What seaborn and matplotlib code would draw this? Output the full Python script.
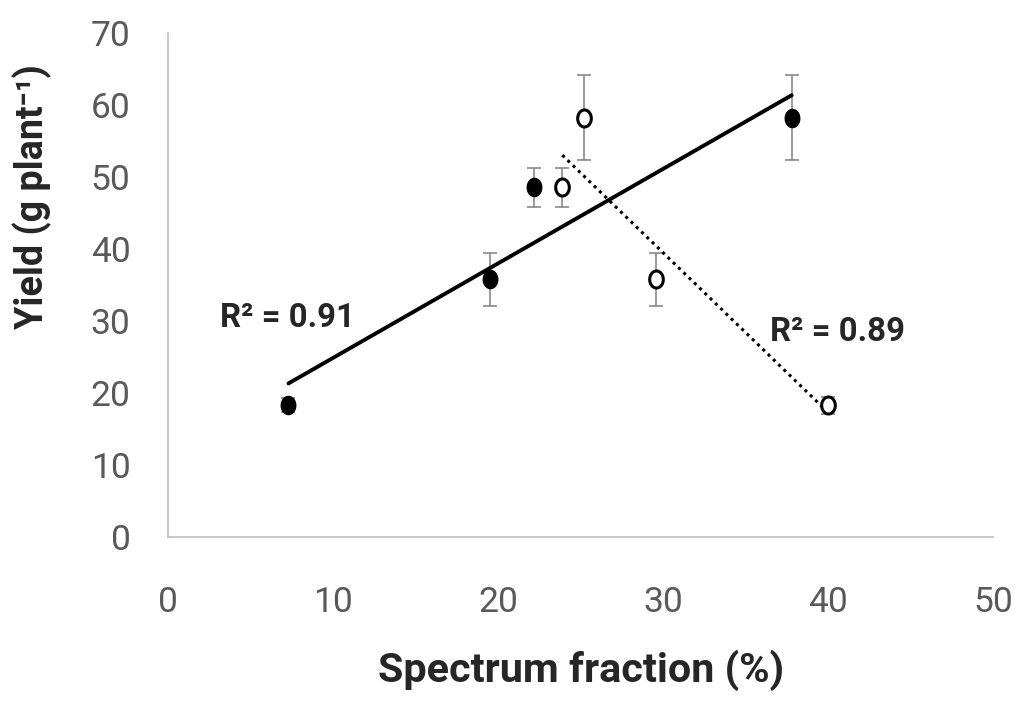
import numpy as np
import pandas as pd
import matplotlib
matplotlib.use("Agg")
import matplotlib.pyplot as plt
from matplotlib import font_manager
from matplotlib.path import Path
import seaborn as sns

# === Data ===
filled_x = [7.3, 19.5, 22.2, 37.8]
filled_y = [18.3, 35.8, 48.6, 58.2]
filled_err = [1.0, 3.7, 2.7, 5.9]

open_x = [23.9, 25.2, 29.6, 40.0]
open_y = [48.6, 58.2, 35.8, 18.3]
open_err = [2.7, 5.9, 3.7, 1.2]

r2_filled = "R² = 0.91"
r2_open = "R² = 0.89"

x_ticks = [0, 10, 20, 30, 40, 50]
y_ticks = [0, 10, 20, 30, 40, 50, 60, 70]

df_filled = pd.DataFrame({"x": filled_x, "y": filled_y})
df_open = pd.DataFrame({"x": open_x, "y": open_y})

# === Style ===
sns.set_style("white")

# prefer a narrow face (the original looks like Calibri)
names = {f.name for f in font_manager.fontManager.ttflist}
if "Liberation Sans Narrow" in names:
    main_font, scale = "Liberation Sans Narrow", 1.0
else:
    main_font, scale = "Roboto", 0.85
fonts = [main_font, "DejaVu Sans"]
plt.rcParams["font.family"] = fonts
axis_grey = "#bfbfbf"
tick_grey = "#595959"

# slightly tall ellipse marker (the picture is stretched vertically)
t = np.linspace(0, 2 * np.pi, 60)
ellipse = Path(np.column_stack([0.8 * np.cos(t), np.sin(t)]), closed=True)

fig = plt.figure(figsize=(10.2, 7.07), dpi=100)
ax = fig.add_axes([0.1647, 0.2405, 0.8088, 0.7128])

# error bars
for xs, ys, es in [(filled_x, filled_y, filled_err), (open_x, open_y, open_err)]:
    ax.errorbar(xs, ys, yerr=es, fmt="none", ecolor="#808080",
                elinewidth=1.1, capsize=5, capthick=1.1, zorder=2)

# trend lines
sns.regplot(data=df_filled, x="x", y="y", scatter=False, ci=None, ax=ax,
            line_kws={"color": "black", "lw": 2.8, "zorder": 3})
sns.regplot(data=df_open, x="x", y="y", scatter=False, ci=None, ax=ax,
            line_kws={"color": "black", "lw": 2.2, "ls": (0, (1, 1.4)), "zorder": 3})

# points
sns.scatterplot(data=df_filled, x="x", y="y", ax=ax, color="black", s=170,
                marker=ellipse, edgecolor="black", linewidth=1, zorder=4)
sns.scatterplot(data=df_open, x="x", y="y", ax=ax, color="white", s=150,
                marker=ellipse, edgecolor="black", linewidth=2.2, zorder=4)

ax.text(3.15, 29.2, r2_filled, fontsize=28 * scale, fontweight="bold",
        family=fonts, va="baseline", ha="left")
ax.text(36.5, 27.2, r2_open, fontsize=28 * scale, fontweight="bold",
        family=fonts, va="baseline", ha="left")

ax.set_xlim(0, 50)
ax.set_ylim(0, 70)
ax.set_xticks(x_ticks)
ax.set_yticks(y_ticks)
ax.tick_params(axis="both", labelsize=30 * scale, labelcolor=tick_grey,
               color=axis_grey, direction="out", width=1.2)
ax.tick_params(axis="x", length=11, pad=24)
ax.tick_params(axis="y", length=11, pad=16)

for side in ["top", "right"]:
    ax.spines[side].set_visible(False)
for side in ["left", "bottom"]:
    ax.spines[side].set_color(axis_grey)
    ax.spines[side].set_linewidth(1.2)

ax.set_xlabel("Spectrum fraction (%)", fontsize=35 * scale, fontweight="bold")
ax.set_ylabel("Yield (g plant⁻¹)", fontsize=32 * scale, fontweight="bold")
ax.xaxis.set_label_coords(0.5006, -0.224)
ax.yaxis.set_label_coords(-0.1406, 0.6746)
ax.grid(False)

fig.savefig("out.png", dpi=100)
